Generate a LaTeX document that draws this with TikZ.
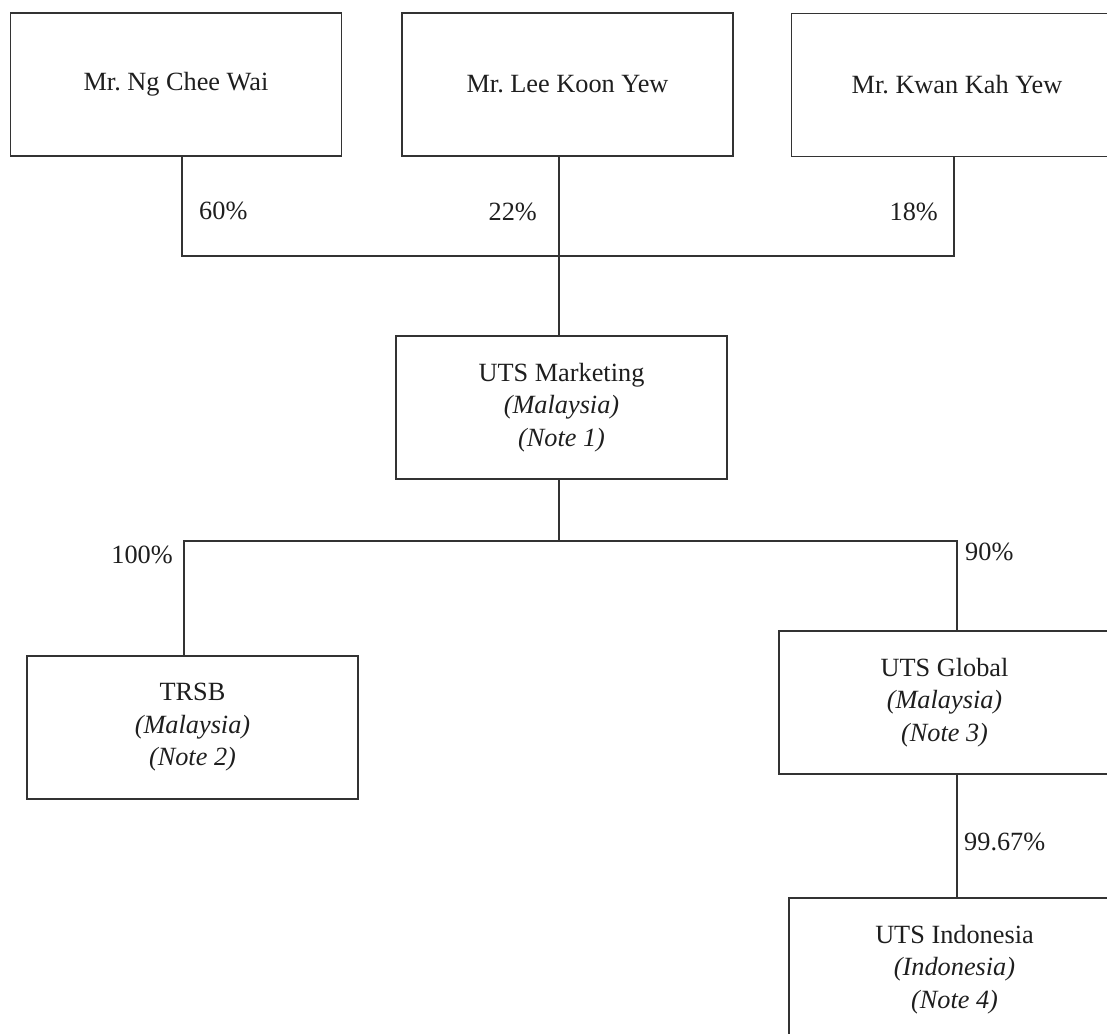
\documentclass[tikz,border=0pt]{standalone}
\usepackage{fontspec}
\setmainfont{Liberation Serif}
\definecolor{ink}{HTML}{333333}
\definecolor{txt}{HTML}{1E1E1E}
\begin{document}
\frenchspacing
\begin{tikzpicture}[x=1pt,y=-1pt,
  box/.style={draw=ink, line width=1.3pt, minimum width=331pt, minimum height=143pt, inner sep=0pt, align=center, text=txt, font=\fontsize{26.3}{32.5}\selectfont},
  pct/.style={text=txt, inner sep=0pt, font=\fontsize{26.3}{30}\selectfont},
  conn/.style={draw=ink, line width=1.3pt}]
\useasboundingbox (0,0) rectangle (1107,1033);
\node[box] (ng) at (176,84.5) {Mr. Ng Chee Wai};
\node[box] (lee) at (567.5,84.5) {Mr. Lee Koon Yew};
\node[box] (kwan) at (957,85) {Mr. Kwan Kah Yew};
\node[box] (uts) at (561.5,407.5) {UTS Marketing\\\textit{(Malaysia)}\\\textit{(Note 1)}};
\node[box] (trsb) at (192.5,727.5) {TRSB\\\textit{(Malaysia)}\\\textit{(Note 2)}};
\node[box] (glob) at (944.5,702.5) {UTS Global\\\textit{(Malaysia)}\\\textit{(Note 3)}};
\node[box] (indo) at (954.5,969.5) {UTS Indonesia\\\textit{(Indonesia)}\\\textit{(Note 4)}};
\coordinate (ja) at (182,256);
\coordinate (jb) at (559,256);
\coordinate (jc) at (954,256);
\coordinate (jd) at (559,541);
\coordinate (je) at (184,541);
\coordinate (jf) at (957,541);
\draw[conn] (ng.south -| ja) -- (ja) -- (jc) -- (kwan.south -| jc);
\draw[conn] (lee.south -| jb) -- (uts.north -| jb);
\draw[conn] (uts.south -| jd) -- (jd);
\draw[conn] (trsb.north -| je) -- (je) -- (jf) -- (glob.north -| jf);
\draw[conn] (glob.south -| jf) -- (indo.north -| jf);
\node[pct, anchor=west] (p60) at (199,211) {60\%};
\node[pct, anchor=east] (p22) at (537,212) {22\%};
\node[pct, anchor=east] (p18) at (938,212) {18\%};
\node[pct, anchor=east] (p100) at (173,555) {100\%};
\node[pct, anchor=west] (p90) at (965,552) {90\%};
\node[pct, anchor=west] (p99) at (964,842) {99.67\%};
\end{tikzpicture}
\end{document}
